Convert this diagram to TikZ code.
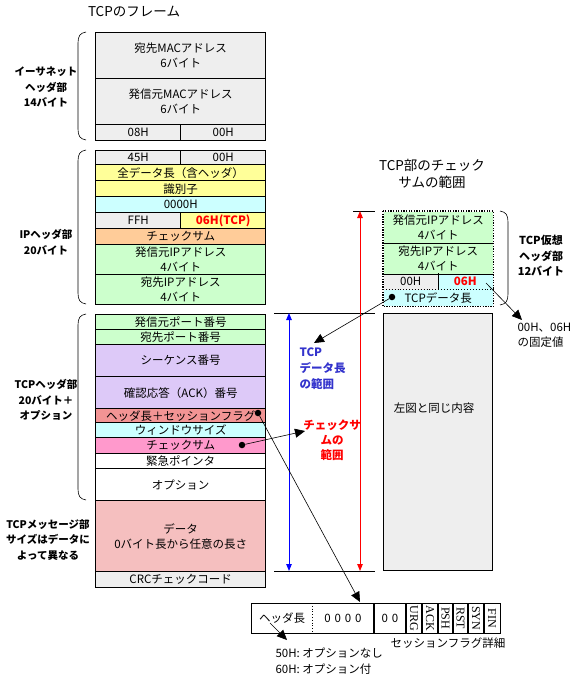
\documentclass[tikz,border=0pt]{standalone}
\usepackage{fontspec}
\setmainfont{Noto Sans CJK JP}
\newfontfamily\flagfont{Liberation Serif}
\usetikzlibrary{arrows.meta}

\definecolor{framegray}{HTML}{EEEEEE}
\definecolor{rowyellow}{HTML}{FFFF99}
\definecolor{rowcyan}{HTML}{CCFFFF}
\definecolor{roworange}{HTML}{FFCC99}
\definecolor{rowgreen}{HTML}{CCFFCC}
\definecolor{rowpurple}{HTML}{DDC9F8}
\definecolor{rowflag}{HTML}{F29494}
\definecolor{rowdata}{HTML}{F5BFBF}
\definecolor{rowpink}{HTML}{FF99CC}
\definecolor{rangeblue}{HTML}{3333CC}

\newcommand{\cellfont}{\fontsize{11.5}{15}\selectfont}
\newcommand{\titlefont}{\fontsize{13.5}{17}\selectfont}
\newcommand{\sidefont}{\fontsize{10.5}{15.5}\selectfont\bfseries}

\tikzset{
  cell/.style={draw, line width=1.4pt, inner sep=0pt, anchor=north west, align=center, font=\cellfont},
  pcell/.style={cell, draw=none},
  sidelabel/.style={align=center, font=\sidefont},
  dot/.style={circle, fill, inner sep=0pt, minimum size=6.5pt},
  bigtip/.style={-{Triangle[length=10pt,width=9pt]}, line width=0.6pt},
  rangetip/.style={{Triangle[length=7pt,width=5.5pt]}-{Triangle[length=7pt,width=5.5pt]}, line width=1pt},
  brace/.style={line width=0.6pt},
  flagcell/.style={rotate=-90, inner sep=0pt, font=\flagfont\fontsize{12}{12}\selectfont}
}

\begin{document}
\begin{tikzpicture}[x=1pt, y=-1pt]
  \useasboundingbox (0,0) rectangle (572,674);

  % left frame
  \node[font=\titlefont] (ftitle) at (134,12) {TCPのフレーム};

  \node[cell, fill=framegray, minimum width=170, minimum height=46] (dmac) at (95,32) {宛先MACアドレス\\6バイト};
  \node[cell, fill=framegray, minimum width=170, minimum height=46] (smac) at (95,78) {発信元MACアドレス\\6バイト};
  \node[cell, fill=framegray, minimum width=85, minimum height=16] (etype1) at (95,124) {08H};
  \node[cell, fill=framegray, minimum width=85, minimum height=16] (etype2) at (180,124) {00H};

  \node[cell, fill=framegray, minimum width=85, minimum height=14] (ipver) at (95,150) {45H};
  \node[cell, fill=framegray, minimum width=85, minimum height=14] (iptos) at (180,150) {00H};
  \node[cell, fill=rowyellow, minimum width=170, minimum height=16] (iplen) at (95,164) {全データ長（含ヘッダ）};
  \node[cell, fill=rowyellow, minimum width=170, minimum height=16] (ipid) at (95,180) {識別子};
  \node[cell, fill=rowcyan, minimum width=170, minimum height=16] (ipfrag) at (95,196) {0000H};
  \node[cell, fill=framegray, minimum width=85, minimum height=16] (ipttl) at (95,212) {FFH};
  \node[cell, fill=rowyellow, minimum width=85, minimum height=16, text=red, font=\cellfont\bfseries] (ipproto) at (180,212) {06H(TCP)};
  \node[cell, fill=roworange, minimum width=170, minimum height=16] (ipsum) at (95,228) {チェックサム};
  \node[cell, fill=rowgreen, minimum width=170, minimum height=30] (ipsrc) at (95,244) {発信元IPアドレス\\4バイト};
  \node[cell, fill=rowgreen, minimum width=170, minimum height=30] (ipdst) at (95,274) {宛先IPアドレス\\4バイト};

  \node[cell, fill=rowgreen, minimum width=170, minimum height=15] (sport) at (95,314) {発信元ポート番号};
  \node[cell, fill=rowgreen, minimum width=170, minimum height=15] (dport) at (95,329) {宛先ポート番号};
  \node[cell, fill=rowpurple, minimum width=170, minimum height=32] (seqno) at (95,344) {シーケンス番号};
  \node[cell, fill=rowpurple, minimum width=170, minimum height=32] (ackno) at (95,376) {確認応答（ACK）番号};
  \node[cell, fill=rowflag, minimum width=170, minimum height=14] (hflags) at (95,408) {ヘッダ長＋セッションフラグ};
  \node[cell, fill=rowcyan, minimum width=170, minimum height=15] (winsz) at (95,422) {ウィンドウサイズ};
  \node[cell, fill=rowpink, minimum width=170, minimum height=16] (tcpsum) at (95,437) {チェックサム};
  \node[cell, fill=white, minimum width=170, minimum height=15] (urgptr) at (95,453) {緊急ポインタ};
  \node[cell, fill=white, minimum width=170, minimum height=32] (tcpopt) at (95,468) {オプション};
  \node[cell, fill=rowdata, minimum width=170, minimum height=71] (payload) at (95,500) {データ\\0バイト長から任意の長さ};
  \node[cell, fill=framegray, minimum width=170, minimum height=16] (crc) at (95,571) {CRCチェックコード};

  % brackets and side labels
  \draw[brace] (86,32) .. controls (80,33) and (78,36) .. (78,43) -- (78,129) .. controls (78,136) and (80,139) .. (86,140);
  \draw[brace] (86,150) .. controls (80,151) and (78,154) .. (78,161) -- (78,293) .. controls (78,300) and (80,303) .. (86,304);
  \draw[brace] (86,314) .. controls (80,315) and (78,318) .. (78,325) -- (78,489) .. controls (78,496) and (80,499) .. (86,500);
  \node[sidelabel] (ethlabel) at (46,87) {イーサネット\\ヘッダ部\\14バイト};
  \node[sidelabel] (iplabel) at (46,242) {IPヘッダ部\\20バイト};
  \node[sidelabel] (tcplabel) at (46,400) {TCPヘッダ部\\20バイト＋\\オプション};
  \node[sidelabel] (msglabel) at (48,540) {TCPメッセージ部\\サイズはデータに\\よって異なる};

  % right: pseudo header
  \node[align=center, font=\titlefont] (rtitle) at (432,174) {TCP部のチェック\\サムの範囲};
  \node[pcell, fill=rowgreen, minimum width=109, minimum height=31] (psrc) at (383,211) {発信元IPアドレス\\4バイト};
  \node[pcell, fill=rowgreen, minimum width=109, minimum height=31] (pdst) at (383,242) {宛先IPアドレス\\4バイト};
  \node[pcell, fill=framegray, minimum width=54, minimum height=16] (pzero) at (383,273) {00H};
  \node[pcell, fill=rowcyan, minimum width=55, minimum height=16, text=red, font=\cellfont\bfseries] (pproto) at (437,273) {06H};
  \node[pcell, fill=rowcyan, minimum width=109, minimum height=16] (plen) at (383,289) {TCPデータ長};
  \draw[line width=0.8pt] (psrc.south west) -- (psrc.south east);
  \draw[line width=0.8pt] (pdst.south west) -- (pdst.south east);
  \draw[line width=0.8pt] (pzero.north east) -- (pzero.south east);
  \draw[line width=0.9pt, dotted] (plen.north west) -- (plen.north east);
  \draw[line width=1.4pt, dash pattern=on 1.3pt off 1.3pt] (psrc.north west) rectangle (plen.south east);
  \node[dot] (lendot) at (392,297) {};

  \draw[brace] (500,211) .. controls (506,212) and (508,215) .. (508,222) -- (508,294) .. controls (508,301) and (506,304) .. (500,305);
  \node[sidelabel, font=\fontsize{11}{15.5}\selectfont\bfseries] (pseudolabel) at (541,256) {TCP仮想\\ヘッダ部\\12バイト};
  \node[align=left, anchor=north west, font=\cellfont] (fixedlabel) at (514,320) {00H、06H\\の固定値};

  \node[cell, fill=framegray, line width=0.9pt, minimum width=109, minimum height=257] (samebox) at (383,313) {};
  \node[font=\cellfont] (sametext) at (434,408) {左図と同じ内容};

  % ranges
  \draw[line width=0.9pt] (353,211) -- (375,211);
  \draw[line width=0.9pt] (274,313) -- (375,313);
  \draw[line width=0.9pt] (274,571) -- (375,571);
  \draw[rangetip, red] (360,211) -- (360,571);
  \draw[rangetip, blue] (289,313) -- (289,571);
  \node[align=left, anchor=north west, text=rangeblue, font=\fontsize{11.5}{16}\selectfont\bfseries] (bluelabel) at (296,344) {TCP\\データ長\\の範囲};
  \node[align=center, text=red, font=\fontsize{11.5}{15}\selectfont\bfseries] (redlabel) at (332,440) {チェックサ\\ムの\\範囲};

  % pointers
  \node[dot] (flagdot) at (258,413) {};
  \node[dot] (sumdot) at (242,445) {};
  \coordinate (bluetip) at (314,343);
  \coordinate (redtip) at (305,431);
  \coordinate (fixedfrom) at (486,283);
  \coordinate (fixedtip) at (522,320);
  \coordinate (detailtip) at (360,602);
  \draw[bigtip] (lendot) -- (bluetip);
  \draw[bigtip] (sumdot) -- (redtip);
  \draw[bigtip] (fixedfrom) -- (fixedtip);
  \draw[bigtip] (flagdot) -- (detailtip);

  % header length / flag detail
  \node[draw, line width=0.9pt, inner sep=0pt, anchor=north west, minimum width=249, minimum height=30] (detail) at (251,603) {};
  \node[font=\cellfont] (dlen) at (282,618) {ヘッダ長};
  \node[font=\cellfont] (dzero4) at (343,618) {0\,\,0\,\,0\,\,0};
  \node[font=\cellfont] (dzero2) at (390,618) {0\,\,0};
  \draw[line width=0.8pt, dotted] (312,603) -- (312,633);
  \draw[line width=1.8pt] (374,603) -- (374,633);
  \draw[line width=1.8pt] (406,603) -- (406,633);
  \draw[line width=1.8pt] (422,603) -- (422,633);
  \draw[line width=1.8pt] (438,603) -- (438,633);
  \draw[line width=1.8pt] (453,603) -- (453,633);
  \draw[line width=1.8pt] (468,603) -- (468,633);
  \draw[line width=1.8pt] (484,603) -- (484,633);
  \node[flagcell] (furg) at (414,618) {URG};
  \node[flagcell] (fack) at (430,618) {ACK};
  \node[flagcell] (fpsh) at (445.5,618) {PSH};
  \node[flagcell] (frst) at (460.5,618) {RST};
  \node[flagcell] (fsyn) at (476,618) {SYN};
  \node[flagcell] (ffin) at (492,618) {FIN};
  \node[font=\cellfont] (flaglabel) at (448,643) {セッションフラグ詳細};
  \node[align=left, anchor=north west, font=\fontsize{11.5}{16}\selectfont] (optnote) at (272,644) {50H: オプションなし\\60H: オプション付};
  \coordinate (lenfrom) at (270,623);
  \coordinate (lentip) at (287,640);
  \draw[bigtip] (lenfrom) -- (lentip);
\end{tikzpicture}
\end{document}
